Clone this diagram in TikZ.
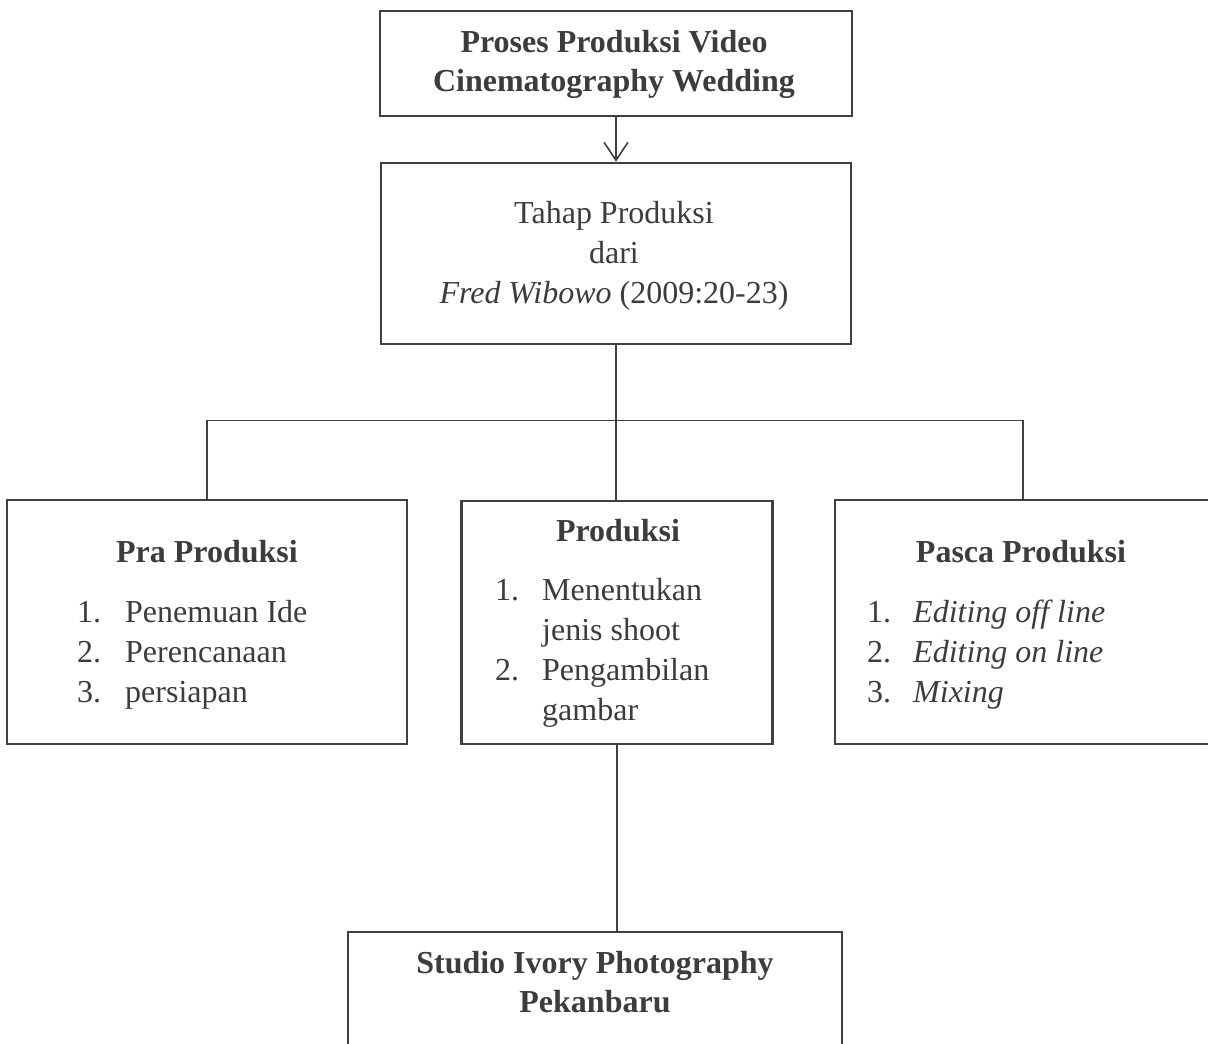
\documentclass[tikz,border=0pt]{standalone}
\usepackage{fontspec}
\setmainfont{Liberation Serif}
\usetikzlibrary{arrows.meta}
\definecolor{inkgray}{RGB}{60,60,60}
\definecolor{linegray}{RGB}{64,64,64}
\tikzset{
  box/.style={draw=linegray, line width=2.6pt, fill=none, inner sep=0pt},
  conn/.style={draw=linegray, line width=1.4pt},
  arr/.style={conn, -{Straight Barb[length=18pt,width=24pt,line width=1.6pt]}},
  txt/.style={text=inkgray, inner sep=0pt, anchor=base, font=\fontsize{32}{40}\selectfont},
  txtl/.style={txt, anchor=base west},
}
\begin{document}
\begin{tikzpicture}[x=1pt,y=-1pt]
\useasboundingbox (0,0) rectangle (1208,1044);
\clip (0,0) rectangle (1208,1044);
\fill[white] (0,0) rectangle (1208,1044);

% boxes
\node[box, minimum width=472pt, minimum height=105pt] (top) at (616,63.5) {};
\node[box, minimum width=470pt, minimum height=181pt] (tahap) at (616,253.5) {};
\node[box, minimum width=400pt, minimum height=244pt] (left) at (207,622) {};
\node[box, minimum width=311pt, minimum height=243pt] (mid) at (617,622.5) {};
\node[box, minimum width=376pt, minimum height=244pt] (right) at (1023,622) {};
\node[box, minimum width=494pt, minimum height=160pt] (bot) at (595,1012) {};

% connectors
\draw[arr] (top.south) -- (tahap.north);
\draw[conn] (tahap.south) -- (tahap.south |- mid.north);
\draw[conn] (left.north) -- ++(0,-78) -| (right.north);
\draw[conn] (mid.south) -- (mid.south |- bot.north);

% top text
\node[txt, font=\fontsize{32}{40}\selectfont\bfseries] (t1) at (614,52) {Proses Produksi Video};
\node[txt, font=\fontsize{32}{40}\selectfont\bfseries] (t2) at (614,91) {Cinematography Wedding};

% tahap text
\node[txt] (h1) at (614,223) {Tahap Produksi};
\node[txt] (h2) at (614,263) {dari};
\node[txt] (h3) at (614,303) {\textit{Fred Wibowo} (2009:20-23)};

% left
\node[txt, font=\fontsize{32}{40}\selectfont\bfseries] (lt) at (207,562) {Pra Produksi};
\node[txtl] (ln1) at (77,622) {1.};
\node[txtl] (ln2) at (77,662) {2.};
\node[txtl] (ln3) at (77,702) {3.};
\node[txtl] (li1) at (125,622) {Penemuan Ide};
\node[txtl] (li2) at (125,662) {Perencanaan};
\node[txtl] (li3) at (125,702) {persiapan};

% middle
\node[txt, font=\fontsize{32}{40}\selectfont\bfseries] (mt) at (618,541) {Produksi};
\node[txtl] (mn1) at (495,600) {1.};
\node[txtl] (mn2) at (495,680) {2.};
\node[txtl] (mi1) at (542,600) {Menentukan};
\node[txtl] (mi1b) at (542,640) {jenis shoot};
\node[txtl] (mi2) at (542,680) {Pengambilan};
\node[txtl] (mi2b) at (542,720) {gambar};

% right
\node[txt, font=\fontsize{32}{40}\selectfont\bfseries] (rt) at (1021,562) {Pasca Produksi};
\node[txtl] (rn1) at (867,622) {1.};
\node[txtl] (rn2) at (867,662) {2.};
\node[txtl] (rn3) at (867,702) {3.};
\node[txtl] (ri1) at (913,622) {\textit{Editing off line}};
\node[txtl] (ri2) at (913,662) {\textit{Editing on line}};
\node[txtl] (ri3) at (913,702) {\textit{Mixing}};

% bottom
\node[txt, font=\fontsize{32}{40}\selectfont\bfseries] (b1) at (595,973) {Studio Ivory Photography};
\node[txt, font=\fontsize{32}{40}\selectfont\bfseries] (b2) at (595,1012) {Pekanbaru};
\end{tikzpicture}
\end{document}
